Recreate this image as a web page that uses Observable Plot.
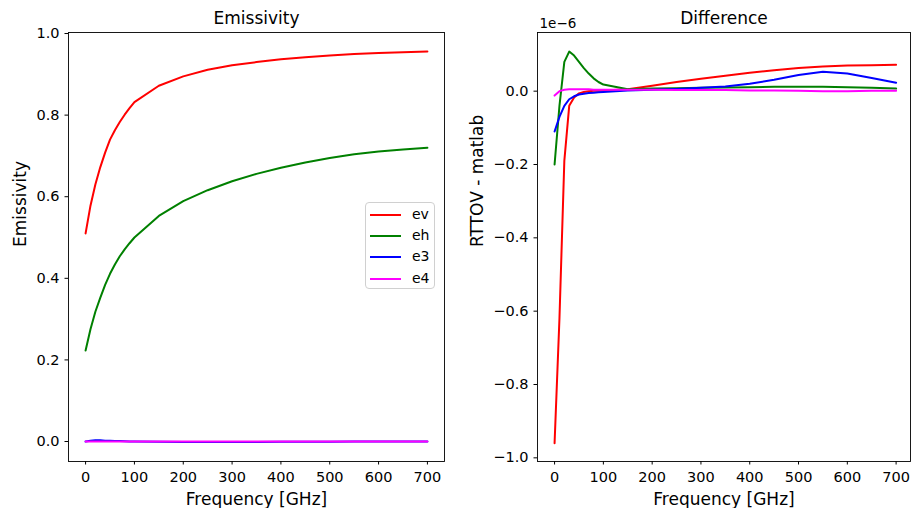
<!DOCTYPE html>
<html>
<head>
<meta charset="utf-8">
<script src="https://cdn.jsdelivr.net/npm/d3@7"></script>
<script src="https://cdn.jsdelivr.net/npm/@observablehq/plot@0.6"></script>
<style>
  body { margin: 0; background: #fff; font-family: "DejaVu Sans", sans-serif; }
  #fig { position: relative; width: 911px; height: 508px; overflow: hidden; background: #fff; }
  #left, #right { position: absolute; top: 0; }
  #left { left: 0; }
  #right { left: 455px; }
  #legend {
    position: absolute; left: 365px; top: 202px; width: 70px; height: 87px;
    border: 1px solid #d0d0d0; border-radius: 4px; background: rgba(255,255,255,0.85);
    box-sizing: border-box; font-family: "DejaVu Sans", sans-serif; font-size: 14px; color: #000;
  }
  #legend .row { position: absolute; left: 0; height: 20px; width: 70px; }
  #legend .sw { position: absolute; left: 4px; width: 31px; height: 2px; }
  #legend .lb { position: absolute; left: 46px; top: -9px; line-height: 18px; }
</style>
</head>
<body>
<div id="fig">
  <div id="left"></div>
  <div id="right"></div>
  <div id="legend"></div>
</div>
<script>
// ---- data ----
const freq = [0, 10, 20, 30, 40, 50, 60, 70, 80, 90, 100, 150, 200, 250, 300, 350, 400, 450, 500, 550, 600, 650, 700];

const seriesNames = ["ev", "eh", "e3", "e4"];
const seriesColors = ["#ff0000", "#008000", "#0000ff", "#ff00ff"];

// Emissivity panel
const ev = [0.51, 0.578, 0.63, 0.672, 0.708, 0.74, 0.763, 0.783, 0.801, 0.817, 0.832, 0.872, 0.895, 0.911, 0.922, 0.93, 0.937, 0.942, 0.946, 0.95, 0.952, 0.954, 0.956];
const eh = [0.223, 0.275, 0.318, 0.352, 0.384, 0.411, 0.434, 0.454, 0.471, 0.486, 0.5, 0.553, 0.589, 0.616, 0.638, 0.656, 0.671, 0.684, 0.695, 0.704, 0.711, 0.716, 0.72];
const e3 = [0.0, 0.002, 0.003, 0.003, 0.002, 0.002, 0.001, 0.001, 0.0005, 0.0, 0.0, -0.0005, -0.001, -0.001, -0.001, -0.001, -0.0008, -0.0005, -0.0003, 0.0, 0.0, 0.0, 0.0];
const e4 = [0.0, 0.0002, 0.0003, 0.0003, 0.0002, 0.0001, 0.0, 0.0, 0.0, 0.0, 0.0, 0.0, 0.0, 0.0, 0.0, 0.0, 0.0, 0.0, 0.0, 0.0, 0.0, 0.0, 0.0];

// Difference panel (RTTOV - matlab), in units of 1e-6
const dev = [-0.96, -0.62, -0.19, -0.04, -0.017, -0.006, -0.002, 0.0, 0.001, 0.001, 0.002, 0.005, 0.015, 0.025, 0.034, 0.042, 0.05, 0.057, 0.063, 0.067, 0.07, 0.071, 0.072];
const deh = [-0.2, -0.04, 0.08, 0.108, 0.097, 0.08, 0.063, 0.048, 0.035, 0.025, 0.018, 0.005, 0.007, 0.008, 0.009, 0.01, 0.011, 0.012, 0.012, 0.012, 0.011, 0.009, 0.007];
const de3 = [-0.11, -0.07, -0.04, -0.022, -0.014, -0.009, -0.007, -0.005, -0.004, -0.003, -0.002, 0.002, 0.004, 0.006, 0.009, 0.013, 0.02, 0.031, 0.044, 0.053, 0.048, 0.036, 0.023];
const de4 = [-0.012, 0.0, 0.004, 0.005, 0.005, 0.005, 0.005, 0.005, 0.004, 0.004, 0.004, 0.004, 0.004, 0.003, 0.003, 0.003, 0.002, 0.002, 0.001, 0.0, 0.0, 0.001, 0.001];

// tick values
const xTicks = [0, 100, 200, 300, 400, 500, 600, 700];
const yTicksLeft = [0.0, 0.2, 0.4, 0.6, 0.8, 1.0];
const yTicksRight = [-1.0, -0.8, -0.6, -0.4, -0.2, 0.0];

// texts
const leftTitle = "Emissivity";
const rightTitle = "Difference";
const xLabel = "Frequency [GHz]";
const leftYLabel = "Emissivity";
const rightYLabel = "RTTOV - matlab";
const offsetText = "1e\u22126";

// ---- build tidy tables ----
function tidy(arrs) {
  const rows = [];
  arrs.forEach((arr, i) => arr.forEach((v, j) => rows.push({freq: freq[j], value: v, series: seriesNames[i]})));
  return rows;
}
const leftData = tidy([ev, eh, e3, e4]);
const rightData = tidy([dev, deh, de3, de4]);

const fontFam = "DejaVu Sans, sans-serif";
const tickFont = 14.5;
const labFont = 17;

function panel(opts) {
  return Plot.plot({
    width: opts.width, height: 508,
    marginLeft: opts.ml, marginRight: opts.mr, marginTop: 32, marginBottom: 47,
    style: {fontFamily: fontFam, fontSize: tickFont + "px", color: "#000", background: "transparent", overflow: "visible"},
    x: {domain: opts.xdom},
    y: {domain: opts.ydom},
    color: {domain: seriesNames, range: seriesColors},
    marks: [
      Plot.axisX({ticks: xTicks, tickFormat: "d", tickSize: 3.5, tickPadding: 7, fontSize: tickFont, label: null, stroke: "#000"}),
      Plot.axisY({ticks: opts.yticks, tickFormat: ".1f", tickSize: 3.5, tickPadding: 5.5, fontSize: tickFont, label: null, stroke: "#000"}),
      Plot.line(opts.data, {x: "freq", y: "value", z: "series", stroke: "series", strokeWidth: 2}),
      Plot.frame({stroke: "#000", strokeWidth: 0.9}),
      Plot.text([opts.title], {text: d => d, frameAnchor: "top", lineAnchor: "bottom", dy: -9, fontSize: labFont}),
      Plot.text([xLabel], {text: d => d, frameAnchor: "bottom", lineAnchor: "bottom", dy: 43, fontSize: labFont}),
      Plot.text([opts.ylabel], {text: d => d, frameAnchor: "left", rotate: -90, dx: opts.ydx, fontSize: labFont}),
      ...(opts.extra || [])
    ]
  });
}

document.getElementById("left").append(panel({
  width: 455, ml: 68, mr: 11,
  xdom: [-35, 735], ydom: [-0.049, 1.0025],
  yticks: yTicksLeft, data: leftData,
  title: leftTitle, ylabel: leftYLabel, ydx: -48
}));

document.getElementById("right").append(panel({
  width: 456, ml: 82, mr: 1,
  xdom: [-35, 729.5], ydom: [-1.010, 0.160],
  yticks: yTicksRight, data: rightData,
  title: rightTitle, ylabel: rightYLabel, ydx: -60,
  extra: [Plot.text([offsetText], {text: d => d, frameAnchor: "top-left", textAnchor: "start", lineAnchor: "bottom", dx: 2, dy: -5, fontSize: 13.5})]
}));

// legend (HTML)
const legend = document.getElementById("legend");
seriesNames.forEach((name, i) => {
  const row = document.createElement("div");
  row.className = "row";
  row.style.top = (11 + i * 21.2) + "px";
  const sw = document.createElement("div");
  sw.className = "sw";
  sw.style.background = seriesColors[i];
  const lb = document.createElement("div");
  lb.className = "lb";
  lb.textContent = name;
  row.append(sw, lb);
  legend.append(row);
});
</script>
</body>
</html>
